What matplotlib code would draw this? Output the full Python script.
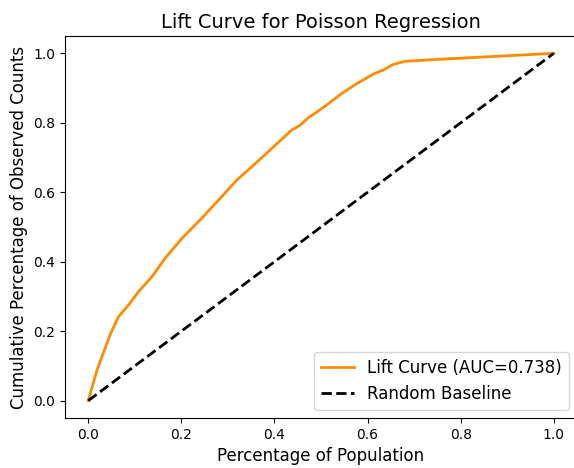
import matplotlib
matplotlib.use("Agg")
import matplotlib.pyplot as plt

# Cumulative share of population (x) vs cumulative share of observed counts (y)
population_pct = [0.0, 0.019, 0.047, 0.065, 0.087, 0.108, 0.137, 0.165, 0.201,
                  0.24, 0.283, 0.319, 0.355, 0.398, 0.437, 0.455, 0.473, 0.491,
                  0.512, 0.544, 0.577, 0.612, 0.635, 0.655, 0.68, 0.741, 0.827,
                  0.913, 1.0]
observed_pct = [0.0, 0.089, 0.19, 0.242, 0.276, 0.314, 0.357, 0.41, 0.467,
                0.52, 0.582, 0.635, 0.678, 0.731, 0.779, 0.793, 0.815, 0.831,
                0.851, 0.884, 0.913, 0.94, 0.953, 0.968, 0.977, 0.982, 0.988,
                0.994, 1.0]
baseline_x = [0.0, 1.0]
baseline_y = [0.0, 1.0]
auc_value = 0.738

fig = plt.figure(figsize=(5.74, 4.68), dpi=100)
ax = fig.add_axes([65 / 574, 50 / 468, 512 / 574, 382 / 468])

ax.plot(population_pct, observed_pct, color="darkorange", lw=2,
        label=f"Lift Curve (AUC={auc_value:.3f})")
ax.plot(baseline_x, baseline_y, color="black", lw=2, linestyle="--",
        label="Random Baseline")

ax.set_title("Lift Curve for Poisson Regression", fontsize=14)
ax.set_xlabel("Percentage of Population", fontsize=12)
ax.set_ylabel("Cumulative Percentage of Observed Counts", fontsize=12)
ax.legend(loc="lower right", fontsize=12)

fig.savefig("out.png", dpi=100)
